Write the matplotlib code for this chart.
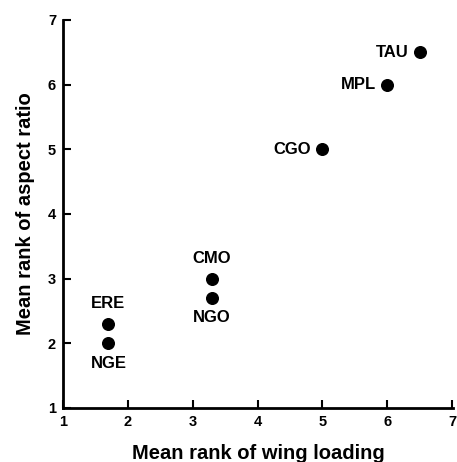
import matplotlib.pyplot as plt

plt.rcParams['font.family'] = ['Liberation Sans', 'DejaVu Sans']

species = ["TAU", "MPL", "CGO", "CMO", "NGO", "ERE", "NGE"]
wing_loading = [6.5, 6.0, 5.0, 3.3, 3.3, 1.7, 1.7]
aspect_ratio = [6.5, 6.0, 5.0, 3.0, 2.7, 2.3, 2.0]
label_pos = ["left", "left", "left", "above", "below", "above", "below"]

fig = plt.figure(figsize=(4.57, 4.62), dpi=100)
ax = fig.add_axes([0.138, 0.117, 0.854, 0.840])

ax.scatter(wing_loading, aspect_ratio, s=70, color="black", zorder=3)

for name, x, y, pos in zip(species, wing_loading, aspect_ratio, label_pos):
    if pos == "left":
        ax.annotate(name, (x, y), xytext=(-8, 0), textcoords="offset points",
                    ha="right", va="center", fontsize=12, fontweight="bold")
    elif pos == "above":
        ax.annotate(name, (x, y), xytext=(0, 9), textcoords="offset points",
                    ha="center", va="bottom", fontsize=12, fontweight="bold")
    else:
        ax.annotate(name, (x, y), xytext=(0, -9), textcoords="offset points",
                    ha="center", va="top", fontsize=12, fontweight="bold")

ax.set_xlim(1, 7.02)
ax.set_ylim(1, 7)
ax.set_xticks(range(1, 8))
ax.set_yticks(range(1, 8))
ax.spines["top"].set_visible(False)
ax.spines["right"].set_visible(False)
for s in ["left", "bottom"]:
    ax.spines[s].set_linewidth(2)
ax.tick_params(direction="in", length=6, width=1.5, labelsize=10.5, pad=5)
for lbl in ax.get_xticklabels() + ax.get_yticklabels():
    lbl.set_fontweight("bold")

ax.set_xlabel("Mean rank of wing loading", fontsize=14.5, fontweight="bold", labelpad=11)
ax.set_ylabel("Mean rank of aspect ratio", fontsize=14.5, fontweight="bold", labelpad=9)

fig.savefig("out.png", dpi=100)
